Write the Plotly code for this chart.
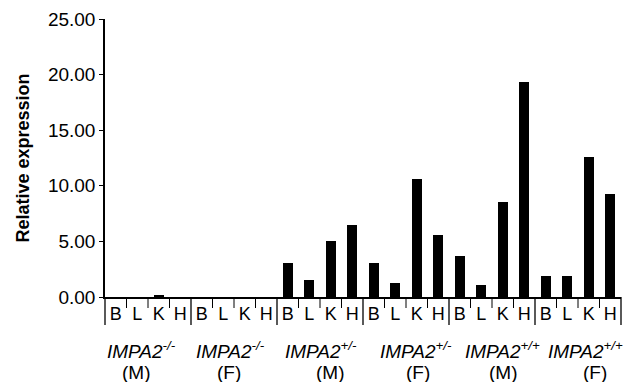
import plotly.graph_objects as go

tissues = ["B", "L", "K", "H"]
groups = ["-/-", "-/-", "+/-", "+/-", "+/+", "+/+"]
sexes = ["(M)", "(F)", "(M)", "(F)", "(M)", "(F)"]
values = [
    0.0, 0.0, 0.1, 0.0,
    0.0, 0.0, 0.0, 0.0,
    3.08, 1.53, 5.06, 6.47,
    3.05, 1.26, 10.6, 5.6,
    3.69, 1.05, 8.54, 19.3,
    1.92, 1.92, 12.6, 9.3,
]
y_ticks = [0, 5, 10, 15, 20, 25]

labels = [t for _ in groups for t in tissues]
n = len(values)
xs = list(range(n))

FONT = "Liberation Sans, Arial, Helvetica, sans-serif"

fig = go.Figure(go.Bar(x=xs, y=values, width=0.45, marker=dict(color="black", line=dict(width=0))))

PH = 278  # plot height in px
shapes = []
ng = len(tissues)
for b in range(n + 1):
    xp = b / n
    big = (b % ng == 0)
    shapes.append(dict(type="line", xref="paper", yref="paper", x0=xp, x1=xp,
                       y0=0, y1=-(28 if big else 11) / PH,
                       line=dict(color="black", width=1.3 if big else 1)))

annotations = []
shift1 = [-7, -4, 1, 10, 10, 7]
shift2 = [-12, -5, 10, 12, 11, 17]
for i, (g, s) in enumerate(zip(groups, sexes)):
    cx = (i * ng + ng / 2) / n
    annotations.append(dict(xref="paper", yref="paper", x=cx, y=-0.19, yanchor="middle",
                            xanchor="center", showarrow=False, xshift=shift1[i],
                            text=f"<i>IMPA2<sup>{g}</sup></i>",
                            font=dict(family=FONT, size=19, color="black")))
    annotations.append(dict(xref="paper", yref="paper", x=cx, y=-0.27, yanchor="middle",
                            xanchor="center", showarrow=False, xshift=shift2[i],
                            text=s, font=dict(family=FONT, size=19, color="black")))

fig.update_layout(
    width=626, height=374,
    margin=dict(l=97, r=13, t=11, b=85, autoexpand=False),
    plot_bgcolor="white", paper_bgcolor="white",
    showlegend=False,
    shapes=shapes, annotations=annotations,
    font=dict(family=FONT, color="black"),
    xaxis=dict(range=[-0.5, n - 0.5], tickmode="array", tickvals=xs, ticktext=labels,
               showline=True, linecolor="black", linewidth=1.5, ticks="",
               showgrid=False, zeroline=False,
               tickfont=dict(family=FONT, size=18, color="black")),
    yaxis=dict(range=[0, 25], tickmode="array", tickvals=y_ticks, tickformat=".2f",
               showline=True, linecolor="black", linewidth=1.5, ticks="outside", ticklen=4,
               tickcolor="black", showgrid=False, zeroline=False,
               tickfont=dict(family=FONT, size=19, color="black"),
               title=dict(text="<b>Relative expression</b>", standoff=14,
                          font=dict(family=FONT, size=18, color="black"))),
    bargap=0,
)

fig.write_html("out.html")
